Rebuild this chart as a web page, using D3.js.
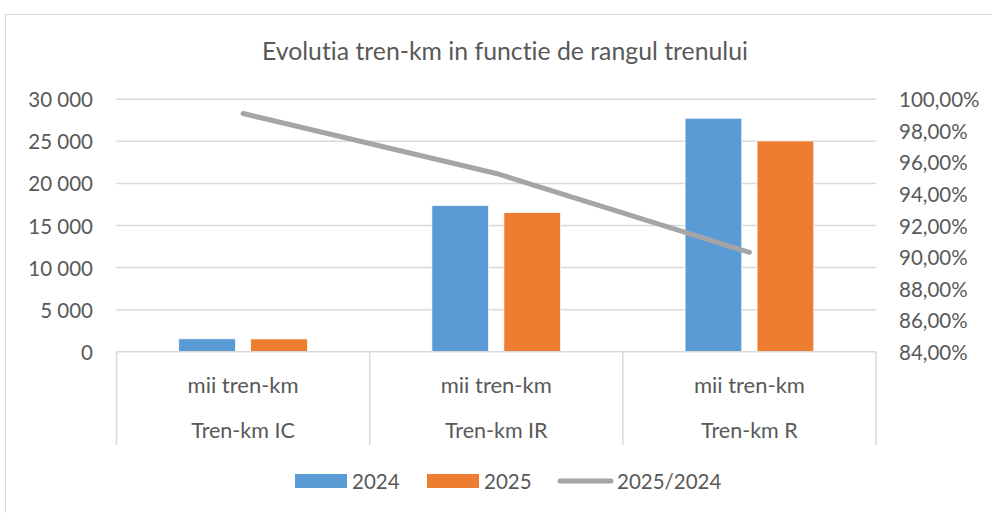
<!DOCTYPE html>
<html><head><meta charset="utf-8">
<script src="https://cdn.jsdelivr.net/npm/d3@7/dist/d3.min.js"></script>
<style>
html,body{margin:0;padding:0;background:#fff;}
svg text{font-family:Lato,"Open Sans",sans-serif;fill:#595959;font-variant-ligatures:none;font-feature-settings:"liga" 0;}
</style></head>
<body><svg id="c" width="992" height="513"></svg>
<script>
const title = "Evolutia tren-km in functie de rangul trenului";
const categories = ["Tren-km IC", "Tren-km IR", "Tren-km R"];
const subLabels = ["mii tren-km", "mii tren-km", "mii tren-km"];
const series = ["2024", "2025"];
const values2024 = [1530, 17360, 27750];
const values2025 = [1515, 16530, 25050];
const ratioName = "2025/2024";
const ratio = [99.1, 95.3, 90.3];
const leftTicks = [0, 5000, 10000, 15000, 20000, 25000, 30000];
const rightTicks = [84, 86, 88, 90, 92, 94, 96, 98, 100];
const colors = {"2024": "#5b9bd5", "2025": "#ed7d31", line: "#a5a5a5"};

const svg = d3.select("#c");
const L = 116.5, R = 876, T = 99.3, B = 351.7;

// outer border
svg.append("rect").attr("x", 5.5).attr("y", 14.5).attr("width", 995).attr("height", 510)
  .attr("fill", "none").attr("stroke", "#d9d9d9").attr("stroke-width", 1);

svg.append("text").attr("x", 505).attr("y", 50).attr("text-anchor", "middle")
  .attr("dominant-baseline", "central").style("font-size", "24.8px").text(title);

const x = d3.scaleBand().domain(categories).range([L, R]).paddingInner(0).paddingOuter(0);
const xs = d3.scaleBand().domain(series).range([0, x.bandwidth()]).paddingInner(0.2125).paddingOuter(0.8646);
const y = d3.scaleLinear().domain([0, 30000]).range([B, T]);
const y2 = d3.scaleLinear().domain([84, 100]).range([B, T]);

// gridlines
svg.append("g").selectAll("line").data(leftTicks.filter(d => d > 0)).join("line")
  .attr("x1", L).attr("x2", R).attr("y1", d => y(d)).attr("y2", d => y(d))
  .attr("stroke", "#d9d9d9").attr("stroke-width", 1.5);

// left axis labels
const fmt = d => d3.format(",")(d).replace(/,/g, " ");
svg.append("g").selectAll("text").data(leftTicks).join("text")
  .attr("x", 93).attr("y", d => y(d)).attr("text-anchor", "end")
  .attr("dominant-baseline", "central").style("font-size", "20.5px").text(fmt);

// right axis labels
svg.append("g").selectAll("text").data(rightTicks).join("text")
  .attr("x", 899).attr("y", d => y2(d)).attr("text-anchor", "start")
  .attr("dominant-baseline", "central").style("font-size", "20.5px")
  .text(d => d.toFixed(2).replace(".", ",") + "%");

// bars
const rows = categories.map((c, i) => ({c, v: {"2024": values2024[i], "2025": values2025[i]}}));
const g = svg.append("g").selectAll("g").data(rows).join("g")
  .attr("transform", d => `translate(${x(d.c)},0)`);
g.selectAll("rect").data(d => series.map(s => ({s, v: d.v[s]}))).join("rect")
  .attr("x", d => xs(d.s)).attr("width", xs.bandwidth())
  .attr("y", d => y(d.v)).attr("height", d => y(0) - y(d.v))
  .attr("fill", d => colors[d.s]).attr("stroke", "#fff").attr("stroke-width", 0.7);

// category axis
svg.append("line").attr("x1", L).attr("x2", R).attr("y1", B).attr("y2", B)
  .attr("stroke", "#d9d9d9").attr("stroke-width", 1.5);
const divs = categories.map(c => x(c)).concat([R]);
svg.append("g").selectAll("line").data(divs).join("line")
  .attr("x1", d => d).attr("x2", d => d).attr("y1", B).attr("y2", 445)
  .attr("stroke", "#d9d9d9").attr("stroke-width", 1.5);
svg.append("g").selectAll("text").data(categories).join("text")
  .attr("x", d => x(d) + x.bandwidth() / 2).attr("y", 384).attr("text-anchor", "middle")
  .attr("dominant-baseline", "central").style("font-size", "22px")
  .text((d, i) => subLabels[i]);
svg.append("g").selectAll("text").data(categories).join("text")
  .attr("x", d => x(d) + x.bandwidth() / 2).attr("y", 430).attr("text-anchor", "middle")
  .attr("dominant-baseline", "central").style("font-size", "21.5px").text(d => d);

// line
const line = d3.line().x((d, i) => x(categories[i]) + x.bandwidth() / 2).y(d => y2(d));
svg.append("path").datum(ratio).attr("d", line).attr("fill", "none")
  .attr("stroke", colors.line).attr("stroke-width", 5).attr("stroke-linecap", "round")
  .attr("stroke-linejoin", "round");

// legend
const lg = svg.append("g");
const ly = 481;
lg.append("rect").attr("x", 295).attr("y", ly - 7).attr("width", 52).attr("height", 14).attr("fill", colors["2024"]);
lg.append("text").attr("x", 352).attr("y", ly).attr("dominant-baseline", "central").style("font-size", "20.5px").text(series[0]);
lg.append("rect").attr("x", 427).attr("y", ly - 7).attr("width", 52).attr("height", 14).attr("fill", colors["2025"]);
lg.append("text").attr("x", 484).attr("y", ly).attr("dominant-baseline", "central").style("font-size", "20.5px").text(series[1]);
lg.append("line").attr("x1", 560).attr("x2", 611).attr("y1", ly).attr("y2", ly)
  .attr("stroke", colors.line).attr("stroke-width", 5).attr("stroke-linecap", "round");
lg.append("text").attr("x", 617).attr("y", ly).attr("dominant-baseline", "central").style("font-size", "20.5px").text(ratioName);
</script></body></html>
